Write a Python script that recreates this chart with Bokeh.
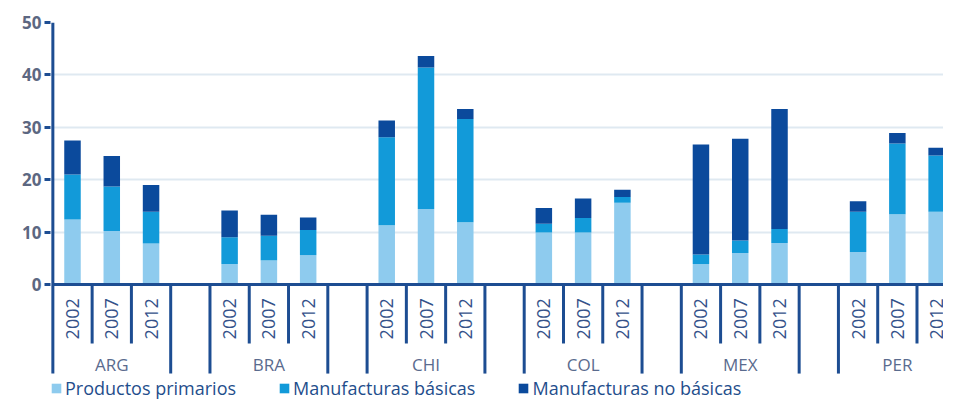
import math
from bokeh.plotting import figure
from bokeh.models import Range1d, FixedTicker, Legend, LegendItem, ColumnDataSource
from bokeh.core.properties import value
from bokeh.embed import file_html
from bokeh.resources import INLINE

# ---- data ----
countries = ["ARG", "BRA", "CHI", "COL", "MEX", "PER"]
years = ["2002", "2007", "2012"]
primarios = [12.4, 10.2, 7.8, 3.9, 4.6, 5.6, 11.3, 14.4, 11.9, 9.9, 9.9, 15.6,
             3.9, 6.0, 7.9, 6.2, 13.4, 13.9]
basicas = [8.6, 8.5, 6.1, 5.1, 4.7, 4.8, 16.8, 27.0, 19.7, 1.7, 2.8, 1.1,
           1.8, 2.4, 2.7, 7.7, 13.5, 10.7]
no_basicas = [6.5, 5.8, 5.1, 5.1, 4.0, 2.4, 3.2, 2.2, 1.9, 3.0, 3.7, 1.4,
              21.0, 19.4, 22.9, 2.0, 2.0, 1.5]
y_ticks = [0, 10, 20, 30, 40, 50]
series_names = ["Productos primarios", "Manufacturas básicas", "Manufacturas no básicas"]

# ---- styling ----
C_LIGHT = "#8ecbee"
C_MED = "#129ad9"
C_DARK = "#0b4a9c"
AXIS = "#1d4d92"
FONT = "Open Sans"

slots_per_country = len(years) + 1
xs, year_lbl = [], []
for ci, c in enumerate(countries):
    for yi, yr in enumerate(years):
        xs.append(ci * slots_per_country + yi + 0.5)
        year_lbl.append(yr)

src = ColumnDataSource(dict(x=xs, prim=primarios, bas=basicas, nob=no_basicas, yr=year_lbl))

Y_BOTTOM = -22.14    # frame bottom (includes legend area)
Y_LONG = -17.0       # end of long separators / axis line
Y_SHORT = -11.26     # end of short separators
p = figure(width=943, height=400, output_backend="svg", toolbar_location=None,
           x_range=Range1d(-0.06, 22.675), y_range=Range1d(Y_BOTTOM, 50),
           x_axis_location=None, min_border_left=50, min_border_top=22,
           min_border_right=0, min_border_bottom=0)
p.outline_line_color = None
p.background_fill_color = "white"

# grid
p.xgrid.visible = False
p.ygrid.ticker = FixedTicker(ticks=y_ticks[1:])
p.ygrid.grid_line_color = "#dfe9f1"
p.ygrid.grid_line_width = 2

# y axis (line drawn separately so it stops above the legend)
yax = p.yaxis[0]
yax.ticker = FixedTicker(ticks=y_ticks)
yax.axis_line_color = None
yax.major_tick_line_color = AXIS
yax.major_tick_line_width = 3
yax.major_tick_out = 6
yax.major_tick_in = 0
yax.minor_tick_line_color = None
yax.major_label_text_font = FONT
yax.major_label_text_font_size = "17px"
yax.major_label_text_font_style = "bold"
yax.major_label_text_color = "#5c6781"
yax.major_label_standoff = 3

renderers = p.vbar_stack(["prim", "bas", "nob"], x="x", width=0.42, source=src,
                         color=[C_LIGHT, C_MED, C_DARK], line_color=None)

# zero line
p.segment(x0=[0], y0=[0], x1=[30], y1=[0], line_color=AXIS, line_width=3)

# separators
short_x, long_x = [], [0]
for ci in range(len(countries)):
    base = ci * slots_per_country
    for k in range(1, len(years)):
        short_x.append(base + k)
    if ci < len(countries) - 1:
        long_x.append(base + len(years))
        long_x.append(base + slots_per_country)
p.segment(x0=short_x, y0=[0] * len(short_x), x1=short_x, y1=[Y_SHORT] * len(short_x),
          line_color=AXIS, line_width=3)
long_top = [50] + [0] * (len(long_x) - 1)
p.segment(x0=long_x, y0=long_top, x1=long_x, y1=[Y_LONG] * len(long_x),
          line_color=AXIS, line_width=3)

# year labels
p.text(x="x", y=-6.55, text="yr", source=src, angle=math.pi / 2,
       text_align="center", text_baseline="middle",
       text_font=value(FONT), text_font_size="18px", text_color="#35528a")

# country labels
cx = [ci * slots_per_country + len(years) / 2 for ci in range(len(countries))]
p.text(x=cx, y=[-15.3] * len(cx), text=countries,
       text_align="center", text_baseline="middle",
       text_font=value(FONT), text_font_size="17px", text_color="#5a6b8e")

legend = Legend(items=[LegendItem(label=n, renderers=[r]) for n, r in zip(series_names, renderers)],
                orientation="horizontal", location=(0, 0))
legend.margin = 0
legend.padding = 0
legend.spacing = 42
legend.border_line_color = None
legend.background_fill_alpha = 0
legend.label_text_font = FONT
legend.label_text_font_size = "18px"
legend.label_text_color = "#1f4e8c"
legend.glyph_width = 12
legend.glyph_height = 12
legend.label_standoff = 3
legend.label_height = 18
p.add_layout(legend)

open("out.html", "w").write(file_html(p, INLINE))
